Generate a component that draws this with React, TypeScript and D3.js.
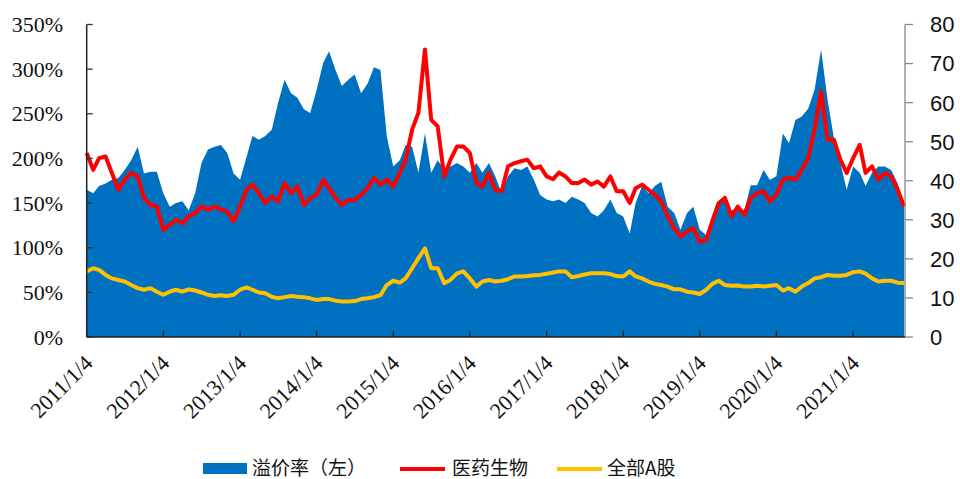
import React from "react";
import * as d3 from "d3";

// monthly readings, first point 2011/1/4
const startLabel = "2011/1/4";
const endLabel = "2021/9/8";

const yearLabels = [
  "2011/1/4", "2012/1/4", "2013/1/4", "2014/1/4", "2015/1/4", "2016/1/4",
  "2017/1/4", "2018/1/4", "2019/1/4", "2020/1/4", "2021/1/4",
];

// 溢价率 (%), left axis
const premium = [
  165, 161, 169, 172, 176, 178, 187, 198, 213, 183, 185, 185, 161, 146, 150, 152, 142,
  161, 195, 210, 213, 215, 206, 183, 176, 202, 225, 221, 225, 232, 262, 288, 273,
  268, 255, 251, 277, 307, 320, 299, 281, 288, 294, 273, 284, 302, 299, 225, 191,
  198, 215, 213, 184, 228, 184, 198, 187, 191, 195, 191, 184, 195, 184, 195, 180,
  161, 180, 189, 187, 191, 176, 159, 154, 152, 154, 150, 157, 154, 150, 139, 135,
  142, 154, 139, 135, 116, 150, 169, 161, 169, 174, 146, 139, 120, 139, 146, 120,
  114, 135, 151, 159, 142, 144, 142, 170, 170, 187, 176, 180, 228, 217, 243, 247,
  256, 277, 322, 266, 223, 195, 165, 191, 184, 169, 184, 191, 191, 187, 172, 148,
];

// 医药生物, right axis
const pharma = [
  47.1, 42.8, 45.8, 46.2, 42.0, 37.7, 40.3, 42.0, 41.1, 35.6, 33.8, 33.4, 27.4, 28.7, 30.0, 29.1, 30.9,
  31.7, 33.4, 32.6, 33.4, 32.6, 32.1, 29.6, 33.4, 37.7, 39.0, 36.8, 34.3, 36.0, 34.7, 39.4, 36.8,
  38.5, 33.8, 35.6, 36.4, 40.2, 38.1, 35.6, 33.8, 35.1, 35.1, 36.4, 38.1, 40.7, 39.0, 40.3, 38.5,
  42.0, 45.4, 53.1, 57.4, 73.6, 55.6, 53.9, 41.1, 45.4, 48.8, 48.8, 47.1, 39.4, 38.5, 42.0, 37.7,
  37.3, 43.7, 44.5, 45.0, 45.4, 43.2, 43.7, 41.1, 40.4, 42.1, 41.1, 39.4, 39.4, 40.3, 39.0, 39.8,
  38.5, 41.1, 37.3, 37.3, 34.3, 38.1, 39.0, 37.7, 36.4, 34.7, 30.9, 27.9, 25.7, 27.0, 27.9, 24.4,
  24.9, 29.6, 34.3, 35.6, 30.9, 33.4, 31.3, 35.6, 36.8, 37.3, 34.7, 36.4, 40.3, 40.7, 40.3, 42.8,
  45.8, 53.1, 62.9, 50.5, 50.5, 45.4, 42.0, 45.8, 49.2, 42.0, 43.7, 40.3, 42.0, 41.1, 37.7, 33.4,
];

// 全部A股, right axis
const allA = [
  16.8, 17.6, 17.2, 15.9, 15.0, 14.6, 14.2, 13.3, 12.5, 12.1, 12.5, 11.6, 10.8, 11.6, 12.1, 11.6, 12.2,
  11.9, 11.4, 10.8, 10.5, 10.7, 10.5, 10.8, 12.1, 12.7, 12.1, 11.4, 11.2, 10.3, 9.9, 10.2, 10.5,
  10.3, 10.2, 9.9, 9.5, 9.7, 9.7, 9.3, 9.1, 9.1, 9.2, 9.7, 9.9, 10.2, 10.7, 13.3, 14.4,
  13.9, 15.0, 17.6, 20.2, 22.7, 17.6, 17.6, 13.8, 14.6, 16.3, 16.8, 15.0, 12.9, 14.2, 14.6, 14.2,
  14.4, 14.8, 15.5, 15.5, 15.6, 15.8, 15.9, 16.2, 16.5, 16.8, 16.8, 15.3, 15.6, 16.0, 16.3, 16.3,
  16.3, 16.1, 15.6, 15.5, 16.8, 15.5, 15.0, 14.2, 13.6, 13.3, 12.9, 12.2, 12.2, 11.6, 11.4, 11.0,
  12.1, 13.6, 14.4, 13.3, 13.1, 13.2, 12.9, 12.9, 13.1, 12.9, 13.1, 13.3, 11.9, 12.5, 11.6, 12.9,
  13.8, 15.0, 15.3, 15.9, 15.7, 15.7, 15.9, 16.6, 16.8, 16.2, 15.0, 14.2, 14.4, 14.4, 13.9, 13.8,
];

const leftTicks = [0, 50, 100, 150, 200, 250, 300, 350];
const rightTicks = [0, 10, 20, 30, 40, 50, 60, 70, 80];

const BLUE = "#0070C0";
const RED = "#FF0000";
const GOLD = "#FFC000";
const serif = "'Liberation Serif', 'Times New Roman', serif";
const cjk = "'Noto Sans CJK SC', sans-serif";

export default function App() {
  const parse = d3.timeParse("%Y/%m/%d");
  const start = parse(startLabel) as Date;
  const dates = premium.map((_, i) => d3.timeMonth.offset(start, i));

  const left = 86.7, right = 905, top = 24.5, bottom = 337;
  const x = d3.scaleTime().domain([start, parse(endLabel) as Date]).range([left, right]);
  const yL = d3.scaleLinear().domain([0, 350]).range([bottom, top]);
  const yR = d3.scaleLinear().domain([0, 80]).range([bottom, top]);

  const areaGen = d3
    .area<number>()
    .x((_, i) => x(dates[i]))
    .y0(bottom)
    .y1((d) => yL(d));
  const lineGen = d3
    .line<number>()
    .x((_, i) => x(dates[i]))
    .y((d) => yR(d));

  return (
    <svg
      width={960}
      height={479}
      style={{ position: "absolute", left: 0, top: 0, background: "#fff" }}
    >
      <path d={areaGen(premium) ?? ""} fill={BLUE} />
      <path d={lineGen(pharma) ?? ""} fill="none" stroke={RED} strokeWidth={4} strokeLinejoin="round" />
      <path d={lineGen(allA) ?? ""} fill="none" stroke={GOLD} strokeWidth={4} strokeLinejoin="round" />

      {/* left axis */}
      <line x1={left} x2={left} y1={top} y2={bottom} stroke="#222" strokeWidth={1.5} />
      {leftTicks.map((t) => (
        <g key={t}>
          <line x1={left} x2={left + 6} y1={yL(t)} y2={yL(t)} stroke="#333" strokeWidth={1.3} />
          <text x={63} y={yL(t)} dy="0.35em" textAnchor="end" fontFamily={serif} fontSize={22} fill="#111">
            {t}%
          </text>
        </g>
      ))}

      {/* right axis */}
      <line x1={right} x2={right} y1={top} y2={bottom} stroke="#888" strokeWidth={1.3} />
      {rightTicks.map((t) => (
        <g key={t}>
          <line x1={right} x2={right + 8} y1={yR(t)} y2={yR(t)} stroke="#888" strokeWidth={1.3} />
          <text x={930} y={yR(t)} dy="0.36em" fontFamily="'Liberation Sans', sans-serif" fontSize={22} fill="#111">
            {t}
          </text>
        </g>
      ))}

      {/* bottom axis */}
      <line x1={left} x2={right} y1={bottom} y2={bottom} stroke="#222" strokeWidth={1.5} />
      {yearLabels.map((lab) => {
        const px = x(parse(lab) as Date);
        return (
          <g key={lab}>
            <line x1={px} x2={px} y1={bottom} y2={bottom - 6} stroke="#222" strokeWidth={1.3} />
            <text
              transform={`translate(${px + 2},${bottom + 22}) rotate(-45)`}
              textAnchor="end"
              dy="0.35em"
              fontFamily={serif}
              fontSize={22}
              fill="#111"
            >
              {lab}
            </text>
          </g>
        );
      })}

      {/* legend */}
      <rect x={203} y={463} width={44} height={11} fill={BLUE} />
      <text x={252} y={475} fontFamily={cjk} fontSize={19} fill="#111">溢价率（左）</text>
      <line x1={400} x2={445} y1={469} y2={469} stroke={RED} strokeWidth={4} />
      <text x={452} y={475} fontFamily={cjk} fontSize={19} fill="#111">医药生物</text>
      <line x1={557} x2={602} y1={469} y2={469} stroke={GOLD} strokeWidth={4} />
      <text x={607} y={475} fontFamily={cjk} fontSize={19} fill="#111">全部A股</text>
    </svg>
  );
}
